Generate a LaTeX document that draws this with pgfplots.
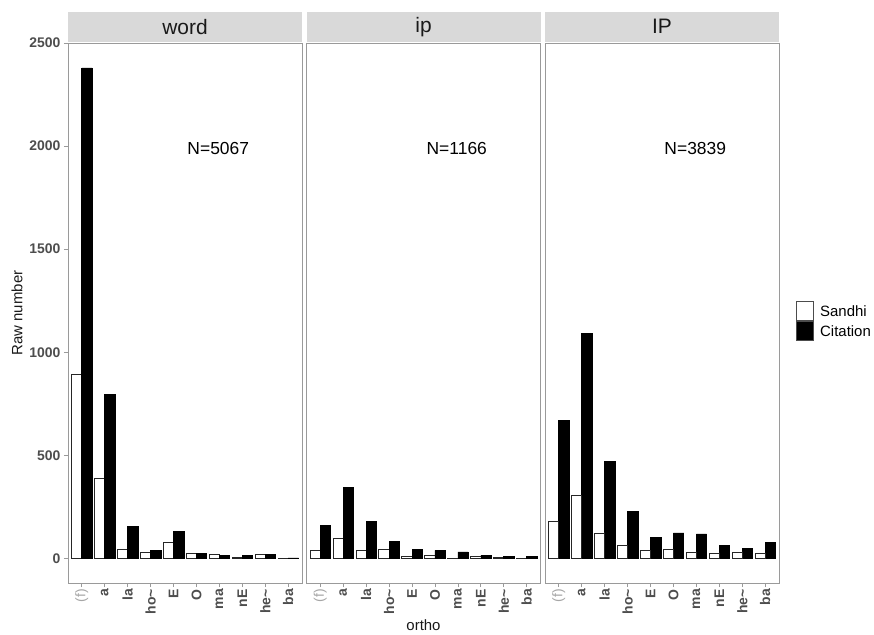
\documentclass[border=0pt]{standalone}
\usepackage{pgfplots}
\pgfplotsset{compat=1.18}
\usepgfplotslibrary{groupplots}
\usepackage{pgfplotstable}
\usepackage{fontspec}
\setmainfont{Liberation Sans}
\definecolor{tickgray}{HTML}{4D4D4D}
\definecolor{stripgray}{HTML}{D9D9D9}
\definecolor{framegray}{HTML}{9A9A9A}

\pgfplotstableread{
x s c
1 891 2379
2 388 795
3 44 155
4 29 39
5 77 131
6 27 25
7 18 15
8 6 16
9 22 20
10 2 3
}\wordtab
\pgfplotstableread{
x s c
1 39 161
2 97 344
3 39 178
4 44 81
5 11 44
6 16 39
7 3 32
8 11 16
9 5 9
10 3 9
}\iptab
\pgfplotstableread{
x s c
1 178 669
2 305 1090
3 124 470
4 65 229
5 39 103
6 44 124
7 32 119
8 27 65
9 32 48
10 27 76
}\IPtab

\pgfplotsset{
  sandhibar/.style={ybar, bar width=0.45, bar shift=-0.225, fill=white, draw=black!85, line width=0.6bp,
    legend image code/.code={\draw[fill=white, draw=black!70, line width=0.6bp] (0bp,-9.5bp) rectangle (17bp,9.5bp);}},
  citbar/.style={ybar, bar width=0.45, bar shift=0.225, fill=black, draw=black, line width=0.6bp,
    legend image code/.code={\draw[fill=black, draw=black!70, line width=0.6bp] (0bp,-9.5bp) rectangle (17bp,9.5bp);}},
}
\newcommand{\strip}[1]{\node[fill=stripgray, minimum width=234bp, minimum height=30bp, inner sep=0pt,
    anchor=south, font=\fontsize{21}{21}\selectfont, text=black!90] at ([yshift=1bp]rel axis cs:0.5,1) {#1};}

\begin{document}
\begin{tikzpicture}
\begin{groupplot}[
  group style={group size=3 by 1, horizontal sep=4.5bp},
  scale only axis,
  width=234bp, height=540bp,
  xmin=0.4, xmax=10.6,
  ymin=-119, ymax=2500,
  xtick={1,...,10},
  xticklabels={\textcolor{gray!70}{\mdseries (f)},a,la,ho\textasciitilde,E,O,ma,nE,he\textasciitilde,ba},
  xticklabel style={rotate=90, anchor=east, font=\bfseries\fontsize{14}{14}\selectfont, text=tickgray, inner sep=2bp},
  yticklabel style={font=\bfseries\fontsize{14}{14}\selectfont, text=tickgray},
  /pgf/number format/assume math mode=true,
  /pgf/number format/1000 sep={},
  axis line style={framegray, line width=0.8bp},
  tick style={framegray, line width=0.8bp},
  tick align=outside,
  major tick length=4bp,
  xtick pos=lower, ytick pos=left,
  clip=false,
]
\nextgroupplot[
  ytick={0,500,1000,1500,2000,2500},
  ylabel={Raw number},
  ylabel style={font=\fontsize{15}{15}\selectfont, text=black!90},
]
\coordinate (bl) at (rel axis cs:0,0);
\addplot[sandhibar] table[x=x,y=s]{\wordtab};
\addplot[citbar] table[x=x,y=c]{\wordtab};
\node[font=\fontsize{17.5}{17.5}\selectfont] at (axis cs:6.95,1990) {N=5067};
\strip{word}

\nextgroupplot[ytick=\empty,
  xlabel={ortho},
  xlabel style={font=\fontsize{15}{15}\selectfont, text=black!90},
]
\addplot[sandhibar] table[x=x,y=s]{\iptab};
\addplot[citbar] table[x=x,y=c]{\iptab};
\node[font=\fontsize{17.5}{17.5}\selectfont] at (axis cs:6.95,1990) {N=1166};
\strip{ip}

\nextgroupplot[ytick=\empty,
  legend style={at={(1.07,0.485)}, anchor=west, draw=none, fill=none, inner sep=0pt,
    row sep=0pt, font=\fontsize{15}{15}\selectfont,
    nodes={inner sep=2bp, text depth=0pt},
    /tikz/every odd column/.style={column sep=5bp}},
  legend cell align=left,
]
\addplot[citbar, forget plot] table[x=x,y=c]{\IPtab};
\addplot[sandhibar] table[x=x,y=s]{\IPtab};
\addlegendentry{Sandhi}
\addlegendimage{citbar}
\addlegendentry{Citation}
\node[font=\fontsize{17.5}{17.5}\selectfont] at (axis cs:6.95,1990) {N=3839};
\strip{IP}
\end{groupplot}
\path[use as bounding box] (bl) ++(-68bp,-50bp) rectangle ++(874bp,633bp);
\end{tikzpicture}
\end{document}
